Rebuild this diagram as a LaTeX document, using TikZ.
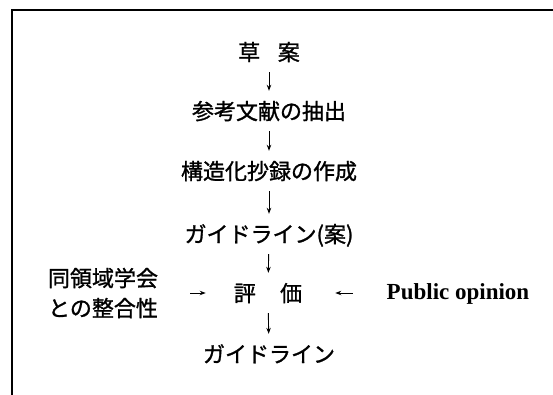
\documentclass[tikz,border=0pt]{standalone}
\usepackage{fontspec}
\setmainfont{Noto Sans CJK JP}[FakeBold=1.2]
\newfontfamily\pubfont{Liberation Serif}
\usetikzlibrary{arrows.meta}
\begin{document}
\begin{tikzpicture}[x=1pt,y=-1pt,
  jp/.style={inner sep=0pt, font=\fontsize{22}{30}\selectfont, text height=19.4pt, text depth=2.6pt},
  jp2/.style={inner sep=0pt, font=\fontsize{22}{30}\selectfont, align=center},
  pub/.style={inner sep=0pt, font=\fontsize{23}{28}\selectfont\pubfont\bfseries, text height=17pt, text depth=5pt},
  arr/.style={line width=0.9pt, -{Stealth[length=6pt,width=4.5pt]}},
  vert/.style={arr, shorten <=9pt, shorten >=9pt},
  frame/.style={line width=1.3pt}]
\useasboundingbox (0,0) rectangle (553,395);
\draw[frame] (12,395) -- (12,10) -- (553,10);
\node[jp] (soan) at (269,52) {草\hspace{0.8em}案};
\node[jp] (sanko) at (269,111) {参考文献の抽出};
\node[jp] (kozo) at (269,171) {構造化抄録の作成};
\node[jp] (gian) at (269,234) {ガイドライン(案)};
\node[jp] (hyoka) at (268,293) {評\hspace{1.1em}価};
\node[jp] (guide) at (269,354) {ガイドライン};
\node[jp2] (doryo) at (103,293) {同領域学会\\との整合性};
\node[pub] (pubop) at (458,293) {Public opinion};
\draw[vert] (soan) -- (sanko);
\draw[vert] (sanko) -- (kozo);
\draw[vert] (kozo) -- (gian);
\draw[vert] (gian) -- (hyoka);
\draw[vert] (hyoka) -- (guide);
\draw[arr, shorten <=32pt, shorten >=28pt] (doryo) -- (hyoka);
\draw[arr, shorten <=34pt, shorten >=33pt] (pubop) -- (hyoka);
\end{tikzpicture}
\end{document}
